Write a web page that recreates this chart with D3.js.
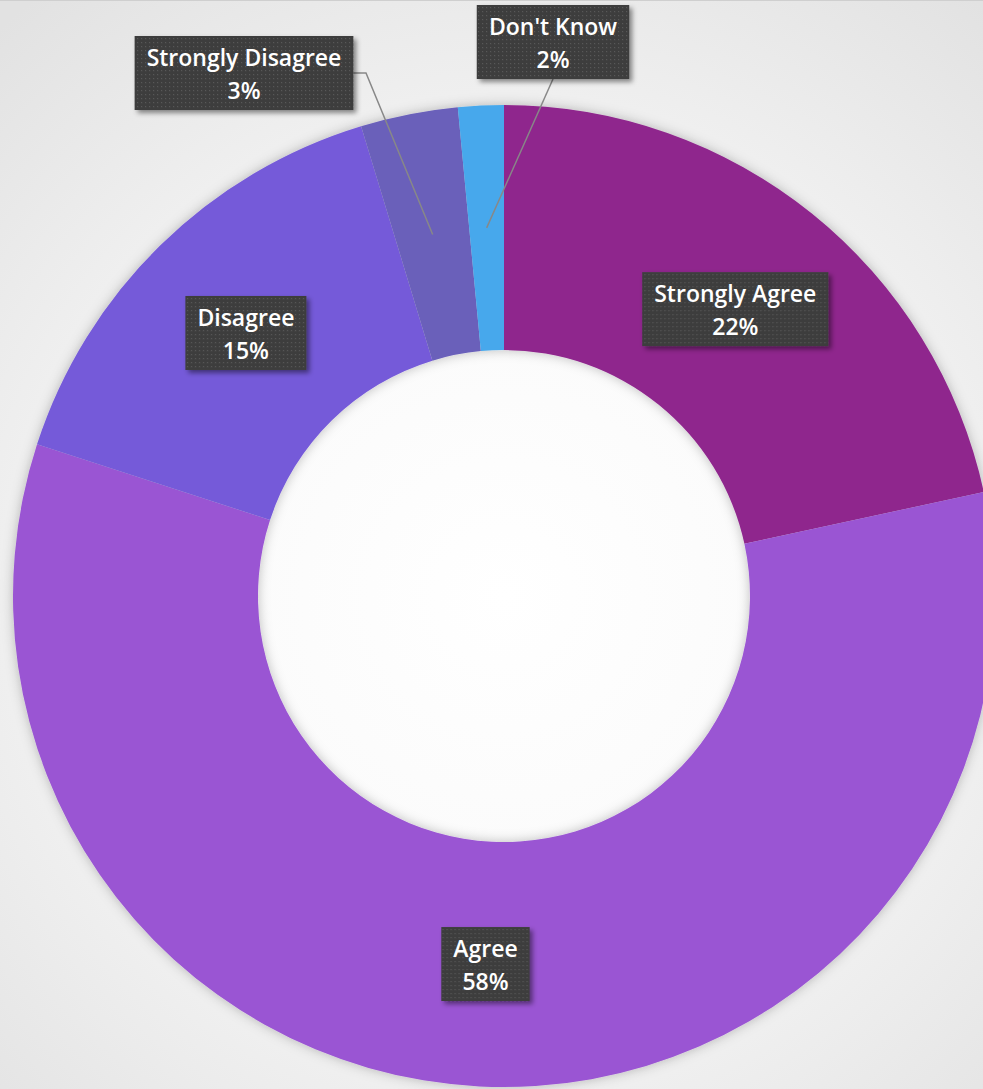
<!DOCTYPE html>
<html>
<head>
<meta charset="utf-8">
<script src="https://cdn.jsdelivr.net/npm/d3@7"></script>
<style>
  html, body { margin: 0; padding: 0; background: #e8e8e8; }
  svg { display: block; }
</style>
</head>
<body>
<svg id="chart" width="983" height="1089"></svg>
<script>
// Survey answers, share of responses (%), clockwise from 12 o'clock
const categories = ["Strongly Agree", "Agree", "Disagree", "Strongly Disagree", "Don't Know"];
const shares = [21.6, 58.4, 15.3, 3.2, 1.5];
const colors = ["#8f278d", "#9a55d3", "#755ad9", "#6a60ba", "#47a8ec"];

const svg = d3.select("#chart");
const width = +svg.attr("width");
const height = +svg.attr("height");

const cx = 504, cy = 596;
const outerR = 491, innerR = 246;

const defs = svg.append("defs");

// background, brightest behind the hole
const bg = defs.append("radialGradient").attr("id", "bg")
  .attr("gradientUnits", "userSpaceOnUse")
  .attr("cx", cx).attr("cy", cy).attr("r", 760);
bg.append("stop").attr("offset", "0%").attr("stop-color", "#ffffff");
bg.append("stop").attr("offset", "35%").attr("stop-color", "#fbfbfb");
bg.append("stop").attr("offset", "100%").attr("stop-color", "#e2e2e2");
svg.append("rect").attr("width", width).attr("height", height).attr("fill", "url(#bg)");
svg.append("line").attr("x1", 0).attr("x2", width).attr("y1", 0.5).attr("y2", 0.5)
  .attr("stroke", "#cfcfcf").attr("stroke-width", 1);

// shadows
const sh = defs.append("filter").attr("id", "ringShadow")
  .attr("x", "-10%").attr("y", "-10%").attr("width", "120%").attr("height", "120%");
sh.append("feDropShadow").attr("dx", 0).attr("dy", 0).attr("stdDeviation", 6)
  .attr("flood-color", "#000").attr("flood-opacity", 0.25);

const bs = defs.append("filter").attr("id", "boxShadow")
  .attr("x", "-20%").attr("y", "-30%").attr("width", "140%").attr("height", "170%");
bs.append("feDropShadow").attr("dx", 3).attr("dy", 3).attr("stdDeviation", 2.5)
  .attr("flood-color", "#000").attr("flood-opacity", 0.45);

// dotted box fill
const pat = defs.append("pattern").attr("id", "dots")
  .attr("width", 4).attr("height", 4).attr("patternUnits", "userSpaceOnUse");
pat.append("rect").attr("width", 4).attr("height", 4).attr("fill", "#3e3e3e");
pat.append("rect").attr("x", 1).attr("y", 1).attr("width", 1.2).attr("height", 1.2).attr("fill", "#585858");

// donut
const pie = d3.pie().sort(null).value(d => d.v);
const data = pie(categories.map((c, i) => ({ name: c, v: shares[i], color: colors[i] })));
const arc = d3.arc().innerRadius(innerR).outerRadius(outerR);
const total = d3.sum(shares);

const g = svg.append("g").attr("transform", `translate(${cx},${cy})`);
g.append("g").attr("filter", "url(#ringShadow)")
  .selectAll("path").data(data).join("path")
  .attr("d", arc)
  .attr("fill", d => d.data.color);

// label placement: inside on the centroid, small slices pulled outside
const outside = {
  "Strongly Disagree": { x: -260, y: -523, elbow: [-138, -523] },
  "Don't Know": { x: 49, y: -554 }
};

const labels = svg.append("g").attr("transform", `translate(${cx},${cy})`);
data.forEach(d => {
  const c = arc.centroid(d);
  const pct = Math.round(d.data.v / total * 100) + "%";
  const o = outside[d.data.name];
  const pos = o ? [o.x, o.y] : c;

  const lg = labels.append("g").attr("transform", `translate(${pos[0]},${pos[1]})`);
  const t = lg.append("text")
    .attr("text-anchor", "middle")
    .attr("font-family", "'Open Sans', sans-serif")
    .attr("font-weight", 600)
    .attr("font-size", 23)
    .attr("fill", "#ffffff");
  t.append("tspan").attr("x", 0).attr("y", -7).text(d.data.name);
  t.append("tspan").attr("x", 0).attr("y", 26).text(pct);

  const bb = t.node().getBBox();
  const padX = 12;
  const w = bb.width + padX * 2, h = 74;
  lg.insert("rect", "text")
    .attr("x", -w / 2).attr("y", -h / 2)
    .attr("width", w).attr("height", h)
    .attr("fill", "url(#dots)")
    .attr("filter", "url(#boxShadow)");

  if (o) {
    let pts;
    if (o.elbow) {
      pts = [c, o.elbow, [o.x + w / 2, o.y]];
    } else {
      pts = [c, [o.x, o.y + h / 2]];
    }
    labels.insert("path", "g")
      .attr("d", d3.line()(pts))
      .attr("fill", "none")
      .attr("stroke", "#888888")
      .attr("stroke-width", 1.5);
  }
});
</script>
</body>
</html>
